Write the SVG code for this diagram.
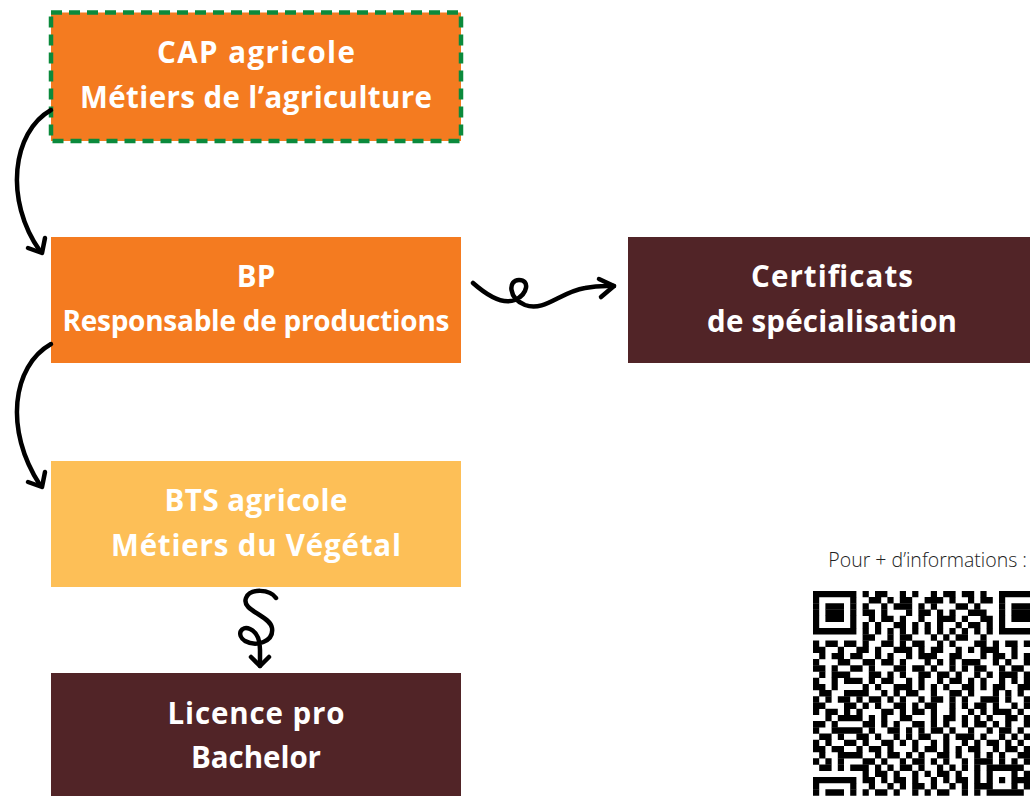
<svg xmlns="http://www.w3.org/2000/svg" width="1030" height="796" viewBox="0 0 1030 796">
<style>
.t{font-family:"Open Sans",Lato,sans-serif;font-weight:700;font-size:29.5px;fill:#fff;text-anchor:middle}
.c{fill:none;stroke:#000;stroke-width:4.5;stroke-linecap:round;stroke-linejoin:round}
.q line{stroke:#000;stroke-width:1.04}
</style>
<rect width="1030" height="796" fill="#fff"/>
<g id="cap">
<rect x="51" y="12.5" width="410" height="128.5" fill="#F47B20" stroke="#0B8A3C" stroke-width="4.5" stroke-dasharray="11 7"/>
<text class="t" x="256" y="63" textLength="198" lengthAdjust="spacing">CAP agricole</text>
<text class="t" x="256" y="108" textLength="352" lengthAdjust="spacing">Métiers de l’agriculture</text>
</g>
<g id="bp">
<rect x="51" y="237" width="410" height="126" fill="#F47B20"/>
<text class="t" x="256" y="287">BP</text>
<text class="t" x="256" y="331" style="font-size:28px" textLength="387" lengthAdjust="spacing">Responsable de productions</text>
</g>
<g id="cs">
<rect x="628" y="237" width="402" height="126" fill="#512427"/>
<text class="t" x="832" y="287" textLength="162" lengthAdjust="spacing">Certificats</text>
<text class="t" x="832" y="332" textLength="250" lengthAdjust="spacing">de spécialisation</text>
</g>
<g id="bts">
<rect x="51" y="461" width="410" height="126" fill="#FDBF57"/>
<text class="t" x="256" y="511" textLength="183" lengthAdjust="spacing">BTS agricole</text>
<text class="t" x="256" y="556" textLength="290" lengthAdjust="spacing">Métiers du Végétal</text>
</g>
<g id="lic">
<rect x="51" y="673" width="410" height="123" fill="#512427"/>
<text class="t" x="256" y="724" textLength="177" lengthAdjust="spacing">Licence pro</text>
<text class="t" x="256" y="768" textLength="130" lengthAdjust="spacing">Bachelor</text>
</g>
<g id="connectors">
<path class="c" d="M51,110 C12,132 4,200 40,251"/>
<path class="c" d="M28,248 L42,253 L45,238"/>
<path class="c" d="M51,344 C12,366 4,430 40,485"/>
<path class="c" d="M28,482 L42,487 L45,472"/>
<path class="c" d="M473,283 C490,298 505,304 515,300 C528,294 530,280 519,280 C508,280 508,298 525,305 C545,312 560,292 585,288 C600,285 608,286 614,286"/>
<path class="c" d="M599,279 L614,286 L601,297"/>
<path class="c" d="M276,598 C270,589 250,588 246,598 C241,611 270,615 272,628 C274,642 256,647 245,641 C236,635 241,625 250,629 C259,633 260,643 260,650 L260,666"/>
<path class="c" d="M251,657 L260,666 L269,657"/>
</g>
<g id="qrinfo">
<text x="1027" y="567" text-anchor="end" style="font-family:'Open Sans',sans-serif;font-weight:300;font-size:19.5px;fill:#222">Pour + d’informations :</text>
<g class="q" transform="translate(813,591) scale(6.2)">
<line x1="0" x2="35" y1="0.5" y2="0.5" stroke-dasharray="7,1,1,1,2,2,1,1,1,2,1,1,2,1,2,1,1,2,5,100"/>
<line x1="0" x2="35" y1="1.5" y2="1.5" stroke-dasharray="1,5,1,2,2,1,1,1,2,2,3,1,1,2,1,1,2,1,1,4"/>
<line x1="0" x2="35" y1="2.5" y2="2.5" stroke-dasharray="1,1,3,1,1,1,1,2,1,1,3,1,1,1,1,3,2,1,1,3,1,1,3,100"/>
<line x1="0" x2="35" y1="3.5" y2="3.5" stroke-dasharray="1,1,3,1,1,1,2,1,1,3,1,1,2,1,1,1,1,2,3,2,1,1,3,100"/>
<line x1="0" x2="35" y1="4.5" y2="4.5" stroke-dasharray="1,1,3,1,1,2,1,1,2,1,1,2,1,2,3,1,1,2,2,1,1,1,3,100"/>
<line x1="0" x2="35" y1="5.5" y2="5.5" stroke-dasharray="1,5,1,1,1,1,1,2,2,1,1,1,1,1,1,2,1,1,2,1,1,1,1,4"/>
<line x1="0" x2="35" y1="6.5" y2="6.5" stroke-dasharray="7,1,1,1,1,1,1,1,1,1,1,1,1,1,1,1,1,1,1,1,1,1,1,1,5,100"/>
<line x1="0" x2="35" y1="7.5" y2="7.5" stroke-dasharray="0,8,2,2,1,1,2,3,1,1,1,1,2,2,1,7"/>
<line x1="0" x2="35" y1="8.5" y2="8.5" stroke-dasharray="1,1,2,1,2,1,1,2,2,1,1,1,2,2,1,1,1,3,2,1,1,1,2,1,1,100"/>
<line x1="0" x2="35" y1="9.5" y2="9.5" stroke-dasharray="2,2,1,2,2,1,1,2,3,1,1,1,2,2,1,1,1,1,3,2,1,2"/>
<line x1="0" x2="35" y1="10.5" y2="10.5" stroke-dasharray="0,1,1,1,2,1,2,2,1,1,1,2,1,1,3,2,2,3,1,1,2,1,1,1,1,100"/>
<line x1="0" x2="35" y1="11.5" y2="11.5" stroke-dasharray="1,3,2,2,2,1,2,1,1,3,1,1,1,1,1,1,3,2,1,1,1,2,1,100"/>
<line x1="0" x2="35" y1="12.5" y2="12.5" stroke-dasharray="2,1,1,2,2,1,1,3,2,1,2,1,1,2,1,1,1,1,2,2,1,1,2,1"/>
<line x1="0" x2="35" y1="13.5" y2="13.5" stroke-dasharray="0,1,1,1,3,3,2,1,1,1,1,2,2,1,2,1,1,2,1,1,1,1,3,1,1,100"/>
<line x1="0" x2="35" y1="14.5" y2="14.5" stroke-dasharray="1,2,1,1,3,1,1,1,2,2,1,1,1,2,1,1,2,1,1,1,1,2,1,1,1,1,1,100"/>
<line x1="0" x2="35" y1="15.5" y2="15.5" stroke-dasharray="2,1,1,4,1,1,1,2,3,1,1,1,1,1,1,2,2,1,1,1,2,2,2,100"/>
<line x1="0" x2="35" y1="16.5" y2="16.5" stroke-dasharray="0,1,2,2,4,2,1,1,1,1,2,2,1,2,2,1,1,3,1,1,1,1,1,1"/>
<line x1="0" x2="35" y1="17.5" y2="17.5" stroke-dasharray="1,1,1,1,2,1,1,1,2,1,1,1,1,2,1,1,2,1,1,1,1,2,3,1,1,2,1,100"/>
<line x1="0" x2="35" y1="18.5" y2="18.5" stroke-dasharray="2,3,2,1,1,1,1,2,2,1,1,1,2,2,1,1,1,1,2,1,1,2,1,1,1,100"/>
<line x1="0" x2="35" y1="19.5" y2="19.5" stroke-dasharray="1,1,2,1,1,1,1,3,2,1,1,1,2,1,1,2,1,2,1,1,1,1,3,1,1,1"/>
<line x1="0" x2="35" y1="20.5" y2="20.5" stroke-dasharray="0,2,1,1,4,1,1,1,1,2,2,3,1,1,2,1,1,1,1,1,1,2,2,1,1,100"/>
<line x1="0" x2="35" y1="21.5" y2="21.5" stroke-dasharray="2,1,1,4,2,1,1,1,1,2,2,1,1,1,1,2,1,1,2,1,1,1,1,2,1,100"/>
<line x1="0" x2="35" y1="22.5" y2="22.5" stroke-dasharray="1,2,5,1,1,2,2,1,1,1,1,1,2,1,1,2,1,2,1,1,2,1,1,1"/>
<line x1="0" x2="35" y1="23.5" y2="23.5" stroke-dasharray="0,1,2,1,1,2,2,1,1,2,1,1,1,1,2,2,1,1,3,1,1,2,1,1,1,1,1,100"/>
<line x1="0" x2="35" y1="24.5" y2="24.5" stroke-dasharray="1,1,1,2,2,1,1,2,2,1,1,1,1,2,1,1,1,2,1,1,1,1,2,1,1,1,1,1"/>
<line x1="0" x2="35" y1="25.5" y2="25.5" stroke-dasharray="2,1,2,2,1,1,2,1,1,3,1,1,2,1,1,1,1,1,2,2,1,1,2,1,1,100"/>
<line x1="0" x2="35" y1="26.5" y2="26.5" stroke-dasharray="0,1,1,2,4,2,1,1,2,1,1,1,1,2,2,1,1,2,1,1,1,1,1,2,2,100"/>
<line x1="0" x2="35" y1="27.5" y2="27.5" stroke-dasharray="1,1,1,1,1,3,2,1,1,2,1,1,2,1,1,1,1,2,1,1,3,1,1,1,1,1,1,100"/>
<line x1="0" x2="35" y1="28.5" y2="28.5" stroke-dasharray="0,1,2,1,1,1,3,1,1,1,1,1,2,1,1,2,1,1,1,1,1,1,1,1,6,1"/>
<line x1="0" x2="35" y1="29.5" y2="29.5" stroke-dasharray="0,8,1,1,2,1,1,2,1,1,1,1,2,1,1,2,1,1,1,3,1,1,1,100"/>
<line x1="0" x2="35" y1="30.5" y2="30.5" stroke-dasharray="7,1,2,1,1,1,2,1,1,2,1,1,1,1,2,1,1,1,1,1,1,1,3,100"/>
<line x1="0" x2="35" y1="31.5" y2="31.5" stroke-dasharray="1,5,1,2,1,2,1,1,1,1,2,1,1,2,1,1,1,1,3,3,1,1,1,100"/>
<line x1="0" x2="35" y1="32.5" y2="32.5" stroke-dasharray="1,1,3,1,1,1,1,1,2,1,1,2,1,1,1,1,2,2,1,1,1,1,6,1"/>
</g>
</g>
</svg>
